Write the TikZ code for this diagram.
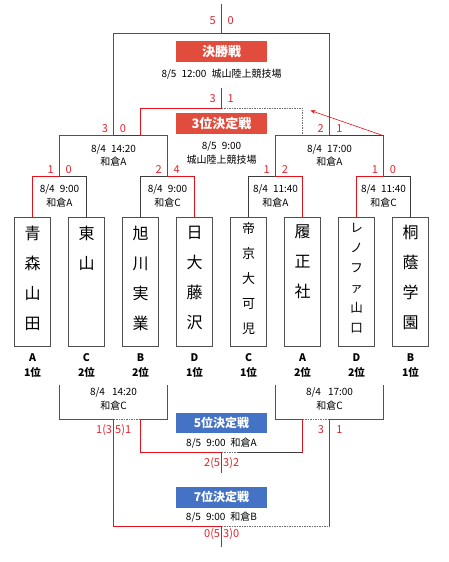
\documentclass[tikz,border=0pt]{standalone}
\usepackage{fontspec}
\setmainfont{Noto Sans CJK JP}
\usetikzlibrary{positioning, arrows.meta}

\definecolor{winred}{RGB}{230,18,26}
\definecolor{scorered}{RGB}{226,36,44}
\definecolor{titlered}{RGB}{226,76,60}
\definecolor{titleblue}{RGB}{68,114,196}
\definecolor{linegrey}{RGB}{60,60,60}
\definecolor{boxgrey}{RGB}{80,80,80}
\definecolor{dashgrey}{RGB}{110,110,110}

\begin{document}
\begin{tikzpicture}[x=1pt, y=-1pt, >=Stealth, every node/.style={align=center, inner sep=0pt},
    win/.style={draw=winred, line width=1.1pt},
    lose/.style={draw=linegrey, line width=0.7pt},
    skip/.style={draw=dashgrey, line width=0.6pt, dash pattern=on 1.5pt off 1pt},
    team/.style={draw=boxgrey, line width=0.7pt, minimum width=36pt, minimum height=129pt, anchor=north},
    tname/.style={anchor=north, font=\fontsize{16}{30}\selectfont},
    score/.style={text=scorered, font=\fontsize{11}{12}\selectfont},
    info/.style={font=\fontsize{10}{13.4}\selectfont},
    rank/.style={font=\fontsize{10.5}{15}\selectfont\bfseries},
    redtitle/.style={fill=titlered, text=white, minimum width=90.7pt, minimum height=20.7pt, font=\fontsize{13}{14}\selectfont\bfseries},
    bluetitle/.style={fill=titleblue, text=white, minimum width=90.7pt, minimum height=20.7pt, font=\fontsize{12}{14}\selectfont\bfseries}]
    \useasboundingbox (0,0) rectangle (448,562);

    % Teams
    \node[team] (t1) at (32.5,216.7) {};
    \node[team] (t2) at (86.5,216.7) {};
    \node[team] (t3) at (140.5,216.7) {};
    \node[team] (t4) at (194.5,216.7) {};
    \node[team] (t5) at (248.5,216.7) {};
    \node[team] (t6) at (302.5,216.7) {};
    \node[team] (t7) at (356.5,216.7) {};
    \node[team] (t8) at (410.5,216.7) {};
    \node[tname, below=9.5pt of t1.north] (n1) {青\\森\\山\\田};
    \node[tname, below=9.5pt of t2.north] (n2) {東\\山};
    \node[tname, below=9.5pt of t3.north] (n3) {旭\\川\\実\\業};
    \node[tname, below=9.5pt of t4.north] (n4) {日\\大\\藤\\沢};
    \node[tname, below=5.7pt of t5.north, font=\fontsize{13}{25}\selectfont] (n5) {帝\\京\\大\\可\\児};
    \node[tname, below=7.8pt of t6.north] (n6) {履\\正\\社};
    \node[tname, below=6.5pt of t7.north, font=\fontsize{12.5}{20}\selectfont] (n7) {レ\\ノ\\フ\\ァ\\山\\口};
    \node[tname, below=8.5pt of t8.north] (n8) {桐\\蔭\\学\\園};
    % Group and rank
    \node[rank, below=7pt of t1] (g1) {A\\1位};
    \node[rank, below=7pt of t2] (g2) {C\\2位};
    \node[rank, below=7pt of t3] (g3) {B\\2位};
    \node[rank, below=7pt of t4] (g4) {D\\1位};
    \node[rank, below=7pt of t5] (g5) {C\\1位};
    \node[rank, below=7pt of t6] (g6) {A\\2位};
    \node[rank, below=7pt of t7] (g7) {D\\2位};
    \node[rank, below=7pt of t8] (g8) {B\\1位};

    % Junctions
    \coordinate (q1) at (59.5,176.7);
    \coordinate (q2) at (167.5,176.7);
    \coordinate (q3) at (275.5,176.7);
    \coordinate (q4) at (383.5,176.7);
    \coordinate (s1) at (113.5,135.7);
    \coordinate (s2) at (329.5,135.7);
    \coordinate (s2r) at (383.5,135.7);
    \coordinate (thl) at (140.5,135.7);
    \coordinate (thr) at (302.5,135.7);
    \coordinate (th) at (221.5,108.3);
    \coordinate (thtop) at (221.5,88.3);
    \coordinate (arr) at (310.5,110.5);
    \coordinate (fl) at (113.5,33.7);
    \coordinate (fr) at (329.5,33.7);
    \coordinate (f) at (221.5,33.7);
    \coordinate (ftop) at (221.5,4);
    \coordinate (lq1) at (59.5,385);
    \coordinate (lq2) at (167.5,385);
    \coordinate (lq3) at (275.5,385);
    \coordinate (lq4) at (383.5,385);
    \coordinate (la) at (113.5,419.3);
    \coordinate (lb) at (140.5,419.3);
    \coordinate (lc) at (302.5,419.3);
    \coordinate (ld) at (329.5,419.3);
    \coordinate (p5) at (221.5,452.7);
    \coordinate (p5m) at (237,452.7);
    \coordinate (p5r) at (302.5,452.7);
    \coordinate (p5end) at (221.5,473.3);
    \coordinate (p7) at (221.5,526.7);
    \coordinate (p7r) at (329.5,526.7);
    \coordinate (p7end) at (221.5,547.3);

    % Losing sides
    \draw[lose] (t2.north) |- (q1);
    \draw[lose] (t3.north) |- (q2);
    \draw[lose] (t5.north) |- (q3);
    \draw[lose] (t8.north) |- (q4);
    \draw[lose] (s1) -- (thl);
    \draw[lose] (s2) -- (s2r);
    \draw[lose] (f) -- (fr);
    \draw[lose] (p5m) -- (p5r);
    \draw[skip] (th) -| (thr);
    \draw[skip] (la) -- (lb);
    \draw[skip] (lc) -- (ld);
    \draw[skip] (p5) -- (p5m);
    \draw[skip] (p7) -- (p7r);
    % Winning paths
    \draw[win] (t1.north) |- (q1) |- (s1) -- (fl) -- (f) -- (ftop);
    \draw[win] (t4.north) |- (q2) |- (thl) |- (th) -- (thtop);
    \draw[win] (t6.north) |- (q3) |- (s2) -- (fr);
    \draw[win] (t7.north) |- (q4) -- (s2r);
    \draw[win, -{Stealth[length=5pt, width=4pt]}, line width=0.6pt] (s2r) -- (arr);
    \draw[win] (lq1) |- (la) |- (p7) -- (p7end);
    \draw[win] (lq2) |- (lb) |- (p5) -- (p5end);
    \draw[win] (lq3) |- (lc) -- (p5r);
    \draw[win] (lq4) |- (ld) -- (p7r);

    % Final
    \node[score] (fsa) at (212.7,21) {5};
    \node[score] (fsb) at (230.7,21) {0};
    \node[redtitle] (final) at (221.5,51.3) {決勝戦};
    \node[info] (finfo) at (221.5,74) {8/5\hspace{5pt}12:00\hspace{5pt}城山陸上競技場};
    % Third place
    \node[score] (tsa) at (212.7,99) {3};
    \node[score] (tsb) at (230.7,99) {1};
    \node[redtitle] (third) at (221.5,123.3) {3位決定戦};
    \node[info] (tinfo) at (221.5,153) {8/5\hspace{5pt}9:00\\城山陸上競技場};
    % Semi finals
    \node[score] (ssa) at (105,128.3) {3};
    \node[score] (ssb) at (123,128.3) {0};
    \node[score] (ssc) at (320.7,128.3) {2};
    \node[score] (ssd) at (339.3,128.3) {1};
    \node[info] (sinfo1) at (113.5,155.7) {8/4\hspace{5pt}14:20\\和倉A};
    \node[info] (sinfo2) at (329.5,155.7) {8/4\hspace{5pt}17:00\\和倉A};
    % Quarter finals
    \node[score] (qsa) at (50.7,169.3) {1};
    \node[score] (qsb) at (68.7,169.3) {0};
    \node[score] (qsc) at (158.7,169.3) {2};
    \node[score] (qsd) at (176.7,169.3) {4};
    \node[score] (qse) at (266.7,169.3) {1};
    \node[score] (qsf) at (285,169.3) {2};
    \node[score] (qsg) at (375,169.3) {1};
    \node[score] (qsh) at (393,169.3) {0};
    \node[info] (qinfo1) at (59.5,196) {8/4\hspace{5pt}9:00\\和倉A};
    \node[info] (qinfo2) at (167.5,196) {8/4\hspace{5pt}9:00\\和倉C};
    \node[info] (qinfo3) at (275.5,196) {8/4\hspace{5pt}11:40\\和倉A};
    \node[info] (qinfo4) at (383.5,196) {8/4\hspace{5pt}11:40\\和倉C};

    % Placement matches
    \node[info] (linfo1) at (113.5,399) {8/4\hspace{7pt}14:20\\和倉C};
    \node[info] (linfo2) at (329.5,399) {8/4\hspace{7pt}17:00\\和倉C};
    \node[score, anchor=east] (lsa) at (112.3,430) {1(3};
    \node[score, anchor=west] (lsb) at (115,430) {5)1};
    \node[score] (lsc) at (321,430) {3};
    \node[score] (lsd) at (339.3,430) {1};
    \node[bluetitle] (fifth) at (221.5,423) {5位決定戦};
    \node[info] (finfo5) at (221.5,443.3) {8/5\hspace{5pt}9:00\hspace{5pt}和倉A};
    \node[score, anchor=east] (fsc) at (220.3,462.7) {2(5};
    \node[score, anchor=west] (fsd) at (223,462.7) {3)2};
    \node[bluetitle] (seventh) at (221.5,497.2) {7位決定戦};
    \node[info] (finfo7) at (221.5,516.7) {8/5\hspace{5pt}9:00\hspace{5pt}和倉B};
    \node[score, anchor=east] (ssc7) at (220.3,534) {0(5};
    \node[score, anchor=west] (ssd7) at (223,534) {3)0};
\end{tikzpicture}
\end{document}
